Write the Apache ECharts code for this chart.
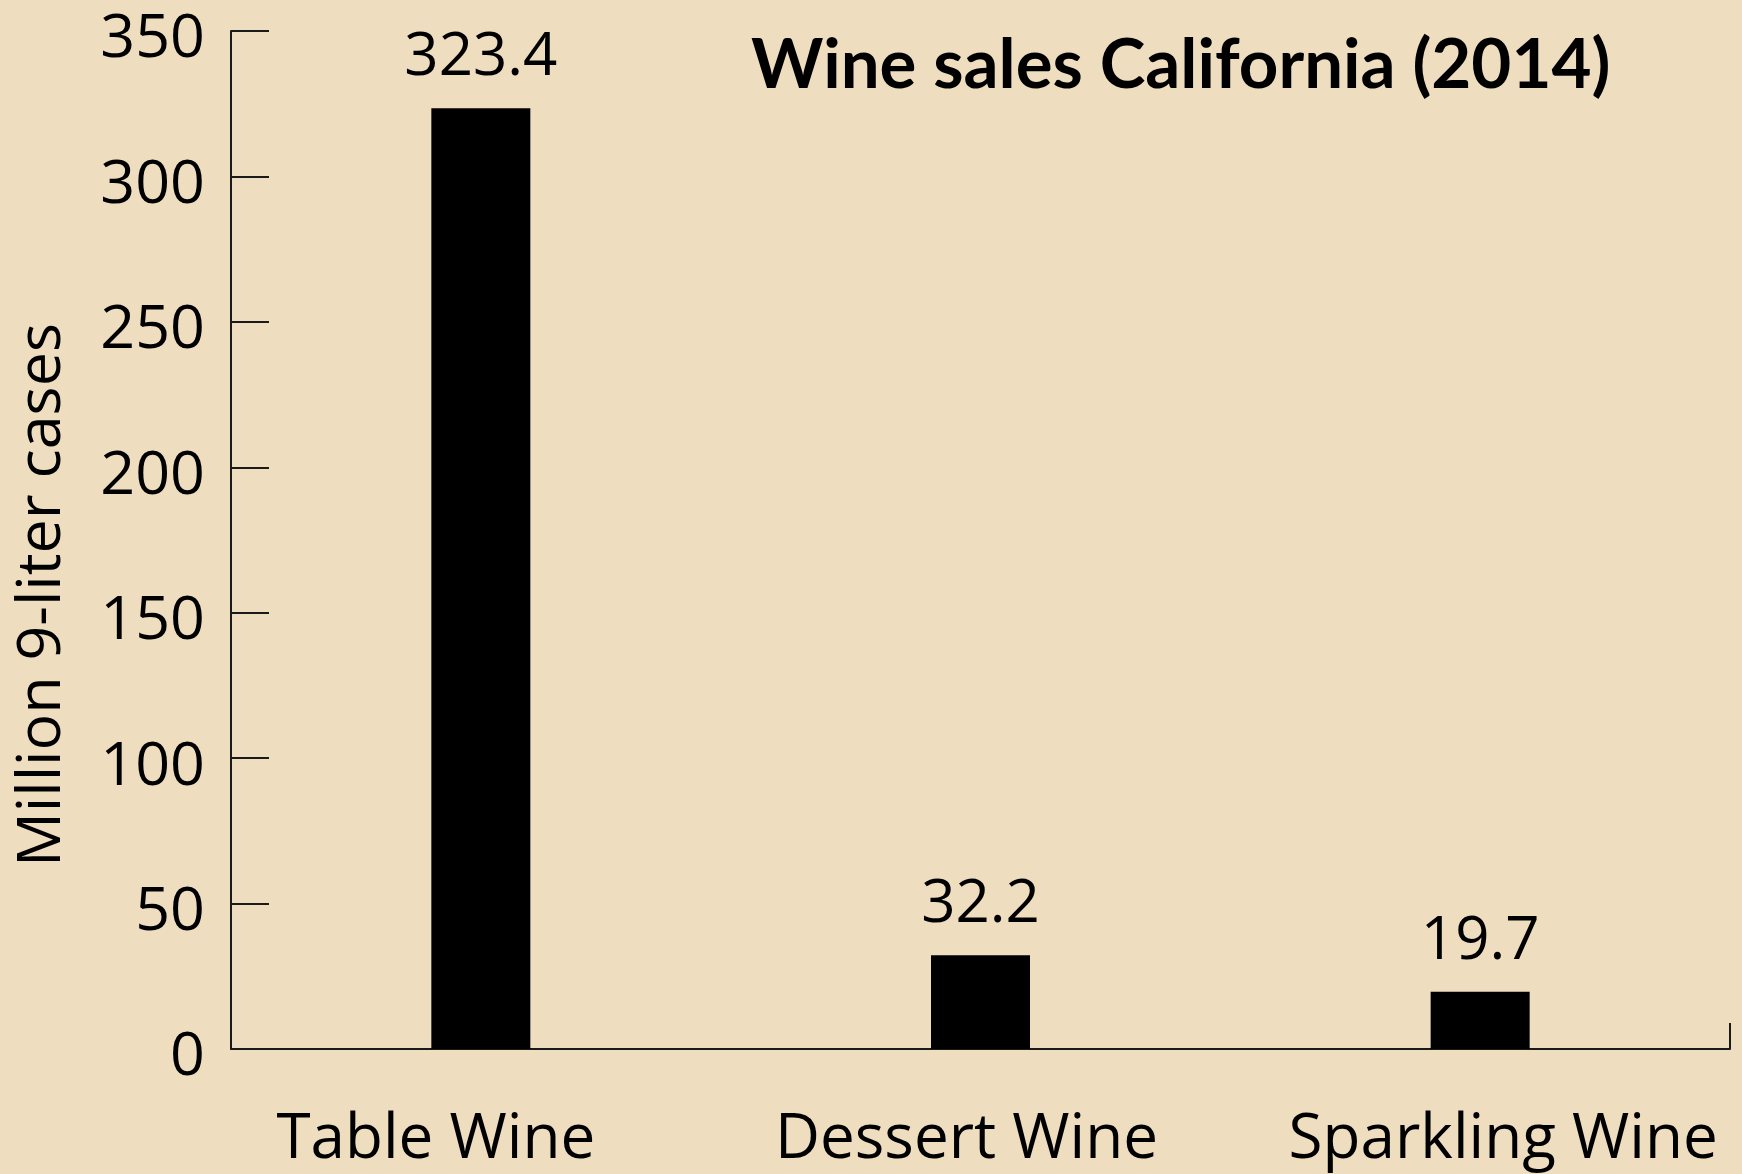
<!DOCTYPE html>
<html>
<head>
<meta charset="utf-8">
<script src="https://cdn.jsdelivr.net/npm/echarts@6/dist/echarts.min.js"></script>
<style>
html,body{margin:0;padding:0;background:#EFDDBF;}
#chart{width:1742px;height:1174px;}
</style>
</head>
<body>
<div id="chart"></div>
<script>
const categories = ['Table Wine', 'Dessert Wine', 'Sparkling Wine'];
const sales = [323.4, 32.2, 19.7];
const titleText = 'Wine sales California (2014)';
const yAxisName = 'Million 9-liter cases';

const labelStyleKeys = ['c0', 'c1', 'c2'];
const chart = echarts.init(document.getElementById('chart'));
chart.setOption({
  backgroundColor: '#EFDDBF',
  animation: false,
  title: {
    text: titleText,
    left: 746,
    top: 26,
    textStyle: {fontFamily: 'Lato', fontWeight: 'bold', fontSize: 69, color: '#000'}
  },
  grid: {left: 231, right: 12, top: 31, bottom: 125, containLabel: false},
  xAxis: {
    type: 'category',
    data: categories,
    axisLine: {lineStyle: {color: '#1a1a1a', width: 2}},
    axisTick: {show: true, inside: true, length: 26, lineStyle: {color: '#1a1a1a', width: 2},
      interval: function (i) { return i === 0; }},
    axisLabel: {
      interval: 0,
      hideOverlap: false,
      margin: 60,
      formatter: function (v, i) { return '{' + labelStyleKeys[i] + '|' + v + '}'; },
      rich: {
        c0: {fontFamily: 'Open Sans', fontSize: 62, color: '#000', padding: [0, 90, 0, 0]},
        c1: {fontFamily: 'Open Sans', fontSize: 62, color: '#000', padding: [0, 28, 0, 0]},
        c2: {fontFamily: 'Open Sans', fontSize: 62, color: '#000', padding: [0, 0, 0, 46]}
      }
    }
  },
  yAxis: {
    type: 'value',
    min: 0, max: 350, interval: 50,
    name: yAxisName,
    nameLocation: 'middle',
    nameGap: 158,
    nameTextStyle: {fontFamily: 'Open Sans', fontSize: 61, color: '#000', padding: [0, 110, 0, 0]},
    splitLine: {show: false},
    axisLine: {show: true, lineStyle: {color: '#1a1a1a', width: 2}},
    axisTick: {show: true, inside: true, length: 38, lineStyle: {color: '#1a1a1a', width: 2}},
    axisLabel: {fontFamily: 'Open Sans', fontSize: 61, color: '#000', margin: 26,
      verticalAlign: 'top', lineHeight: 18}
  },
  series: [{
    type: 'bar',
    data: sales,
    barWidth: 99,
    itemStyle: {color: '#000'},
    label: {show: true, position: 'top', distance: 20, fontFamily: 'Open Sans', fontSize: 60, color: '#000'}
  }]
});
</script>
</body>
</html>
